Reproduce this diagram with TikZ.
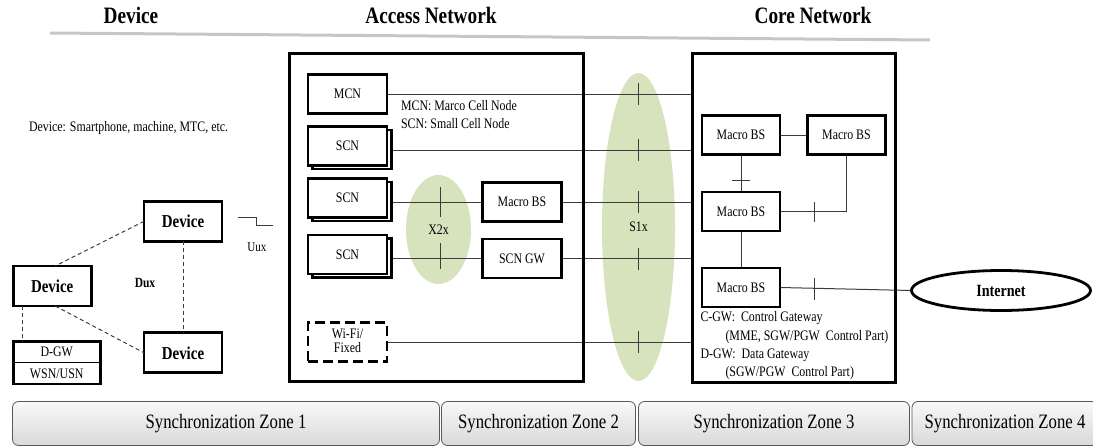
\documentclass[tikz,border=0pt]{standalone}
\usepackage{fontspec}
\setmainfont{Liberation Serif}[FakeStretch=0.82]
\usetikzlibrary{shadows,calc,backgrounds,shapes.geometric}
\definecolor{lgreen}{RGB}{214,227,188}
\definecolor{lnc}{RGB}{60,60,60}
\begin{document}
\begin{tikzpicture}[x=1pt,y=-1pt,
  every node/.style={inner sep=0pt, outer sep=0pt},
  txt/.style={font=\fontsize{14.5}{17}\selectfont},
  title/.style={font=\fontsize{23.5}{28}\selectfont\bfseries},
  box/.style={draw, line width=2.8pt, fill=white, minimum width=79pt, minimum height=39pt, txt},
  stack/.style={box, copy shadow={shadow xshift=4.5pt, shadow yshift=-3.5pt}},
  devbox/.style={box, font=\fontsize{18.2}{21}\selectfont\bfseries, minimum width=78pt, minimum height=40pt},
  bigbox/.style={draw, line width=2.8pt},
  conn/.style={line width=1pt, draw=lnc},
  dashconn/.style={line width=1pt, draw=lnc, dash pattern=on 4pt off 3pt},
  tick/.style={line width=1pt, draw=lnc},
  cloud/.style={ellipse, fill=lgreen, txt},
  zone/.style={draw=black!65, line width=0.8pt, rounded corners=6pt, top color=gray!5, bottom color=gray!30, minimum height=44pt, font=\fontsize{20.4}{24}\selectfont}
]
\useasboundingbox (0,0) rectangle (1093,447);

% titles
\node[title] (tdev) at (131,15) {Device};
\node[title] (tacc) at (431,15) {Access Network};
\node[title] (tcore) at (813,15) {Core Network};
\draw[line width=3pt, gray!45] (50,33) -- (930,40);

% big boxes
\node[bigbox, minimum width=294pt, minimum height=328pt] (acc) at (436.5,217.5) {};
\node[bigbox, minimum width=203pt, minimum height=329pt] (core) at (794,218) {};

% green ellipses (background)
\begin{scope}[on background layer]
\node[cloud, minimum width=65pt, minimum height=109pt] (x2x) at (438.5,229.5) {X2x};
\node[cloud, minimum width=73pt, minimum height=308pt] (s1x) at (638.5,227) {S1x};
\end{scope}

% access network nodes
\node[box] (mcn) at (347.5,94) {MCN};
\node[stack] (scn1) at (347.5,146) {SCN};
\node[stack] (scn2) at (347.5,198) {SCN};
\node[stack] (scn3) at (347.5,254.5) {SCN};
\node[box, dash pattern=on 10pt off 5pt] (wifi) at (347.5,342) {\begin{tabular}{@{}c@{}}Wi-Fi/\\[-3pt]Fixed\end{tabular}};
\node[box] (mbsA) at (522,202) {Macro BS};
\node[box] (scngw) at (522,258.5) {SCN GW};

\node[txt, anchor=west] (legm) at (401,106) {MCN: Marco Cell Node};
\node[txt, anchor=west] (legs) at (401,124) {SCN: Small Cell Node};

% core network nodes
\node[box, minimum width=78pt] (cm1) at (741,135) {Macro BS};
\node[box, minimum width=78pt] (cm2) at (846.5,135) {Macro BS};
\node[box, minimum width=78pt] (cm3) at (741,211.5) {Macro BS};
\node[box, minimum width=78pt] (cm4) at (741,287.5) {Macro BS};
\node[draw, ellipse, line width=2.8pt, minimum width=179pt, minimum height=40pt, font=\fontsize{17.2}{20}\selectfont\bfseries] (inet) at (1001,290.5) {Internet};

\node[txt, anchor=west] (cgw1) at (700.5,318) {C-GW:\ \ Control Gateway};
\node[txt, anchor=west] (cgw2) at (725.5,337) {(MME, SGW/PGW\ \ Control Part)};
\node[txt, anchor=west] (dgw1) at (700.5,355) {D-GW:\ \ Data Gateway};
\node[txt, anchor=west] (dgw2) at (725.5,373) {(SGW/PGW\ \ Control Part)};

% devices
\node[txt, anchor=west] (devnote) at (29,128) {Device: Smartphone, machine, MTC, etc.};
\node[devbox] (devT) at (183,221.3) {Device};
\node[devbox] (devL) at (52.2,286) {Device};
\node[devbox] (devB) at (183,352.8) {Device};
\node[txt, minimum width=87pt, minimum height=21pt] (dgw) at (56.7,352.2) {D-GW};
\node[txt, minimum width=87pt, minimum height=21pt] (wsn) at (56.7,373.5) {WSN/USN};
\draw[line width=2.8pt] (dgw.north west) rectangle (wsn.south east);
\draw[line width=1.2pt] (dgw.south west) -- (dgw.south east);
\node[font=\fontsize{14}{16}\selectfont\bfseries] (dux) at (145,283) {Dux};
\node[font=\fontsize{13.5}{16}\selectfont] (uux) at (257,247) {Uux};
\coordinate (u1) at (238,217);
\coordinate (u2) at (273,225);
\draw[conn] (u1) -- ++(18,0) |- (u2);

% device links
\draw[dashconn] (devT.west) -- ($(devL.north)+(3,0)$);
\draw[dashconn] ($(devL.south)+(3,0)$) -- (devB.west);
\draw[dashconn] (devT.south) -- (devB.north);
\draw[dashconn] ($(devL.south west)+(9,0)$) -- ($(dgw.north west)+(9,0)$);

% connectors (behind nodes)
\begin{scope}[on background layer]
\draw[conn] (mcn.east) -- (mcn.east -| core.west);
\coordinate (s1l) at ($(scn1.east)+(4.5,4)$);
\draw[conn] (s1l) -- (s1l -| core.west);
\draw[conn] (mbsA.west -| scn2.east) -- (mbsA.west);
\draw[conn] (mbsA.east) -- (mbsA.east -| core.west);
\draw[conn] (scngw.west -| scn3.east) -- (scngw.west);
\draw[conn] (scngw.east) -- (scngw.east -| core.west);
\draw[conn] (wifi.east) -- (wifi.east -| core.west);
\draw[conn] (cm1.east) -- (cm2.west);
\draw[conn] (cm1.south) -- (cm3.north);
\draw[conn] (cm3.east) -| (cm2.south);
\draw[conn] (cm3.south) -- (cm4.north);
\draw[conn] (cm4.east) -- (inet.west);
\end{scope}

% ticks
\draw[tick] (440,187) -- (440,217);
\draw[tick] (440,243) -- (440,269);
\foreach \yy in {94,150,202,258.5,342}
  \draw[tick] (638,\yy-11) -- (638,\yy+11);
\draw[tick] (732,180) -- (750,180);
\draw[tick] (814,202) -- (814,222);
\draw[tick] (814,278) -- (814,300);

% synchronization zones
\node[zone, minimum width=427pt] (z1) at (226,423.5) {Synchronization Zone 1};
\node[zone, minimum width=194pt] (z2) at (538.5,423.5) {Synchronization Zone 2};
\node[zone, minimum width=271pt] (z3) at (774,423.5) {Synchronization Zone 3};
\node[zone, minimum width=186pt] (z4) at (1005,423.5) {Synchronization Zone 4};
\end{tikzpicture}
\end{document}
